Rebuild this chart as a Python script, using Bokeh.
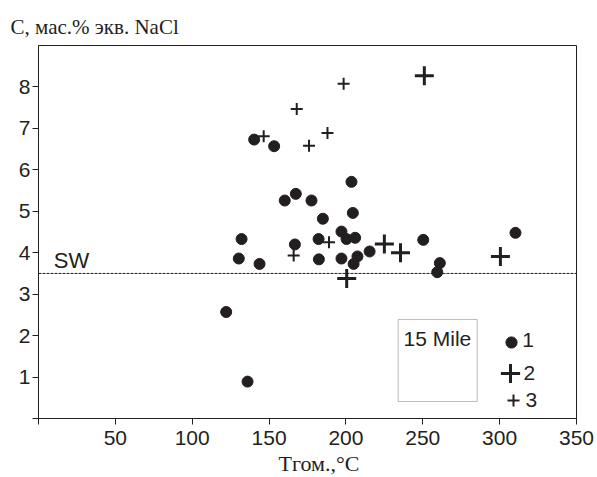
from bokeh.plotting import figure
from bokeh.models import (Span, Label, BoxAnnotation, Legend, LegendItem, Title,
                          FixedTicker, Range1d)
from bokeh.core.properties import value
from bokeh.embed import file_html
from bokeh.resources import INLINE

# ---- data ----
temp_1 = [140.3, 153.3, 203.6, 167.4, 160.2, 177.6, 185.0, 204.5, 197.1, 200.4,
          206.0, 182.2, 166.8, 132.1, 130.3, 143.8, 182.4, 197.1, 207.5, 205.0,
          215.4, 250.3, 261.1, 259.4, 122.1, 136.0, 310.3]
salt_1 = [6.73, 6.57, 5.71, 5.42, 5.26, 5.26, 4.82, 4.96, 4.51, 4.33,
          4.36, 4.33, 4.20, 4.33, 3.86, 3.73, 3.84, 3.86, 3.91, 3.73,
          4.03, 4.31, 3.75, 3.53, 2.57, 0.89, 4.48]

temp_2 = [251.0, 225.0, 235.5, 200.5, 300.5]
salt_2 = [8.27, 4.21, 4.00, 3.38, 3.91]

temp_3 = [198.5, 168.0, 188.0, 176.0, 146.5, 189.0, 166.0]
salt_3 = [8.08, 7.47, 6.89, 6.58, 6.81, 4.25, 3.93]

SW_LEVEL = 3.5

x_ticks = [0, 50, 100, 150, 200, 250, 300, 350]
x_tick_labels = {0: "", 50: "50", 100: "100", 150: "150", 200: "200",
                 250: "250", 300: "300", 350: "350"}
y_ticks = [0, 1, 2, 3, 4, 5, 6, 7, 8]
y_tick_labels = {0: "", 1: "1", 2: "2", 3: "3", 4: "4", 5: "5", 6: "6", 7: "7", 8: "8"}

series_labels = ["1", "2", "3"]
box_label = "15 Mile"
x_title = "Тгом.,°C"
y_title = "С, мас.% экв. NaCl"

INK = "#231f20"
SANS = "Liberation Sans"
SERIF = "Liberation Serif"

p = figure(width=597, height=477, x_range=Range1d(0, 350), y_range=Range1d(0, 9),
           output_backend="svg", toolbar_location=None,
           min_border_left=38, min_border_right=21, min_border_top=45,
           min_border_bottom=59)

p.xgrid.visible = False
p.ygrid.visible = False
p.outline_line_color = INK
p.outline_line_width = 1
p.background_fill_color = "white"
p.border_fill_color = "white"

for ax in (p.xaxis[0], p.yaxis[0]):
    ax.axis_line_color = INK
    ax.major_tick_line_color = INK
    ax.minor_tick_line_color = None
    ax.major_tick_in = 0
    ax.major_tick_out = 6
    ax.major_label_text_font = SANS
    ax.major_label_text_font_size = "21px"
    ax.major_label_text_color = INK

p.xaxis.ticker = FixedTicker(ticks=x_ticks)
p.xaxis.major_label_overrides = x_tick_labels
p.xaxis.major_label_standoff = 6
p.yaxis.ticker = FixedTicker(ticks=y_ticks)
p.yaxis.major_label_overrides = y_tick_labels
p.yaxis.major_label_standoff = 2

# titles
p.title.text = y_title
p.title.align = "left"
p.title.offset = -28
p.title.text_font = SERIF
p.title.text_font_size = "21px"
p.title.text_font_style = "normal"
p.title.text_color = INK
p.title.standoff = 14

p.add_layout(Title(text=x_title, align="left", offset=240, text_font=SERIF,
                   text_font_size="22px", text_font_style="normal",
                   text_color=INK, standoff=3), "below")

# seawater line
p.add_layout(Span(location=SW_LEVEL, dimension="width", line_color=INK,
                  line_width=1, line_dash="3 1"))
p.add_layout(Label(x=10, y=SW_LEVEL, text="SW", text_font=SANS,
                   text_font_size="22px", text_color=INK, text_baseline="bottom"))

# data
r1 = p.scatter(temp_1, salt_1, marker="circle", size=11, fill_color=INK, line_color=INK)
r2 = p.scatter(temp_2, salt_2, marker="cross", size=19, line_width=3, line_color=INK)
r3 = p.scatter(temp_3, salt_3, marker="cross", size=12, line_width=2, line_color=INK)

# "15 Mile" box
p.add_layout(BoxAnnotation(left=234, right=285.4, bottom=0.41, top=2.39,
                           fill_color=None, line_color=INK, line_width=1))
p.add_layout(Label(x=237.5, y=2.2, text=box_label, text_font=SANS,
                   text_font_size="21px", text_color=INK, text_baseline="top"))

# legend keys (glyphs) and their numbers
def make_legend(r, loc, g):
    return Legend(items=[LegendItem(label=value(" "), renderers=[r])],
                  location=loc, glyph_width=g, glyph_height=g, label_height=g,
                  label_standoff=0, padding=0, margin=0, spacing=0,
                  border_line_color=None, background_fill_alpha=0,
                  label_text_font=SANS, label_text_font_size="21px",
                  label_text_color=INK)

p.add_layout(make_legend(r1, (459, 62), 28))
p.add_layout(make_legend(r2, (448, 21), 48))
p.add_layout(make_legend(r3, (460, 3), 30))

for lab, lx, ly in zip(series_labels, [314.7, 315.6, 316.9], [1.89, 1.09, 0.44]):
    p.add_layout(Label(x=lx, y=ly, text=lab, text_font=SANS, text_font_size="21px",
                       text_color=INK, text_baseline="middle"))

open("out.html", "w").write(file_html(p, INLINE))
